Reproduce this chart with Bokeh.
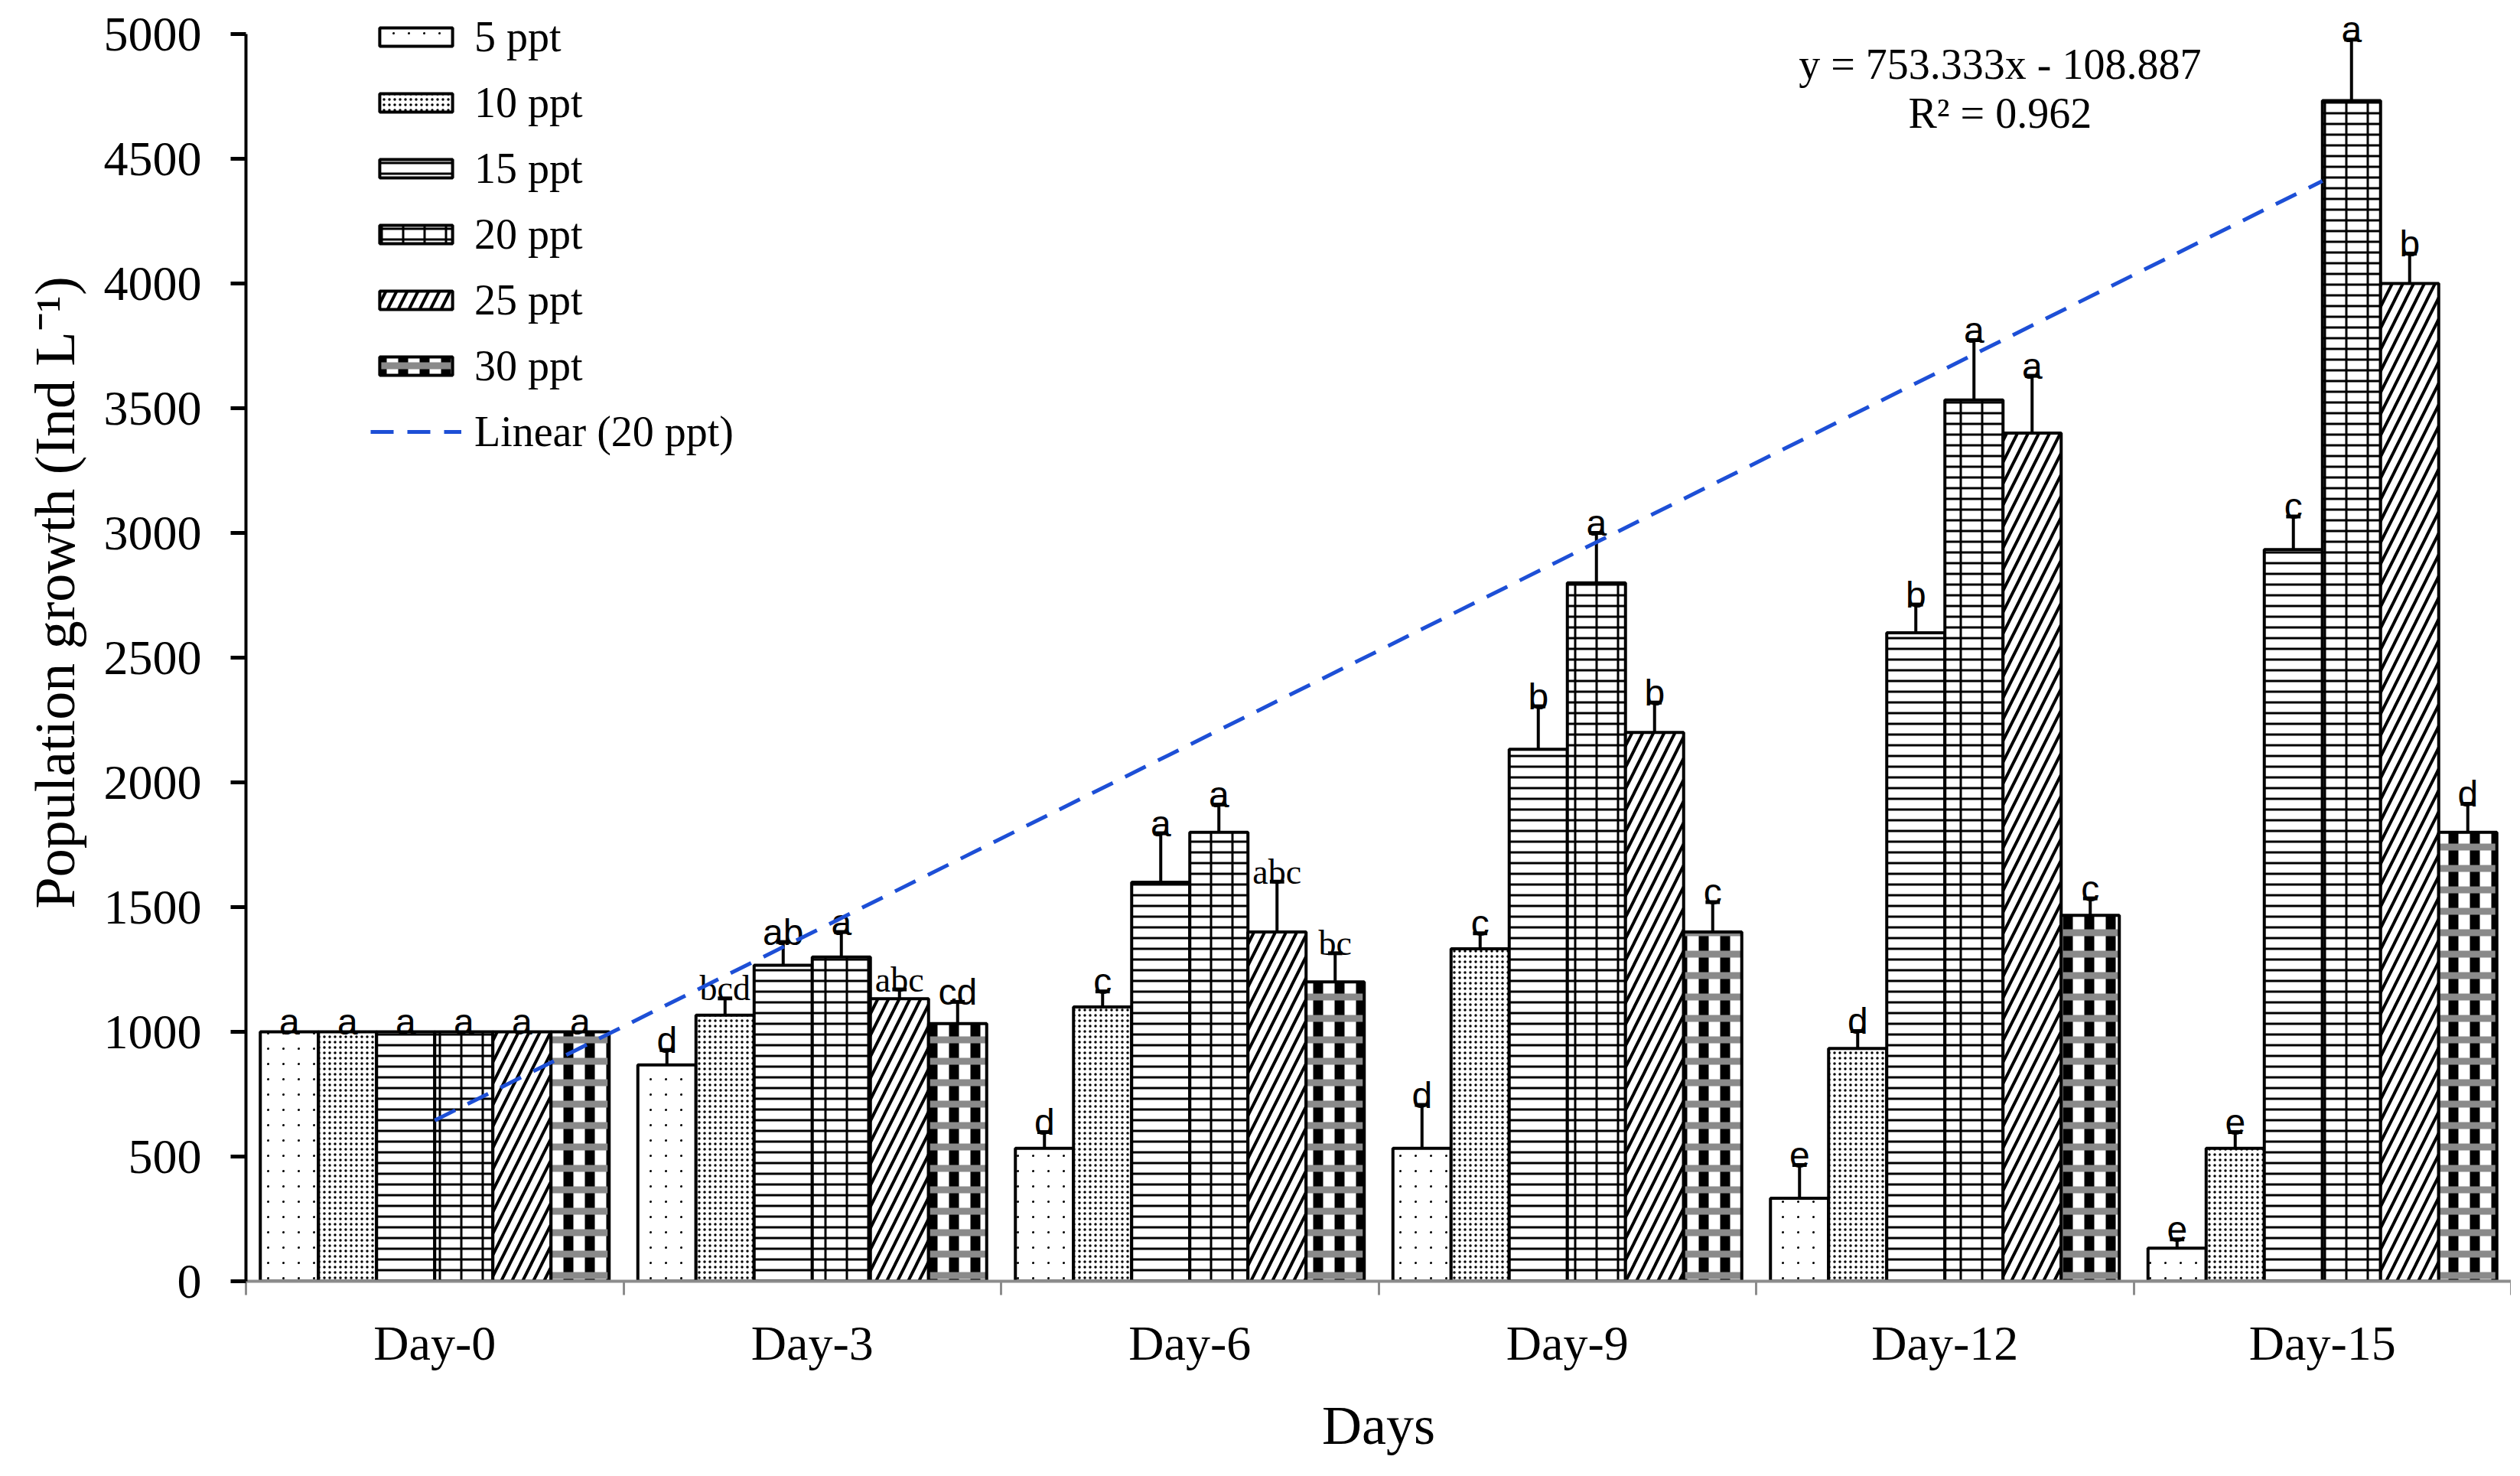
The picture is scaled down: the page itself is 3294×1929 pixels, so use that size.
from bokeh.plotting import figure
from bokeh.models import Range1d, FixedTicker, Legend, LegendItem, Label, Title
from bokeh.core.properties import value
from bokeh.embed import file_html
from bokeh.resources import INLINE

# ---------------- data ----------------
DAYS = ["Day-0", "Day-3", "Day-6", "Day-9", "Day-12", "Day-15"]
SALINITY = ["5 ppt", "10 ppt", "15 ppt", "20 ppt", "25 ppt", "30 ppt"]

ppt5 = [1000, 867, 533, 533, 333, 133]
ppt10 = [1000, 1067, 1100, 1333, 933, 533]
ppt15 = [1000, 1267, 1600, 2133, 2600, 2933]
ppt20 = [1000, 1300, 1800, 2800, 3533, 4733]
ppt25 = [1000, 1133, 1400, 2200, 3400, 4000]
ppt30 = [1000, 1033, 1200, 1400, 1467, 1800]

err5 = [0, 60, 65, 174, 133, 35]
err10 = [0, 67, 62, 62, 70, 65]
err15 = [0, 93, 196, 172, 113, 133]
err20 = [0, 100, 111, 200, 240, 245]
err25 = [0, 37, 202, 120, 230, 120]
err30 = [0, 87, 115, 120, 68, 114]

let5 = ["a", "d", "d", "d", "e", "e"]
let10 = ["a", "bcd", "c", "c", "d", "e"]
let15 = ["a", "ab", "a", "b", "b", "c"]
let20 = ["a", "a", "a", "a", "a", "a"]
let25 = ["a", "abc", "abc", "b", "a", "b"]
let30 = ["a", "cd", "bc", "c", "c", "d"]

# linear trend of 20 ppt, read at Day-0 and Day-15
TREND_DAYS = ["Day-0", "Day-15"]
TREND_Y = [645, 4411]
EQUATION = "y = 753.333x - 108.887"
R2_TEXT = "R\u00b2 = 0.962"
X_TITLE = "Days"
Y_TITLE = "Population growth (Ind L\u207b\u00b9)"

VALUES = [ppt5, ppt10, ppt15, ppt20, ppt25, ppt30]
ERRORS = [err5, err10, err15, err20, err25, err30]
LETTERS = [let5, let10, let15, let20, let25, let30]
SERIF_LETTERS = {"bcd", "abc", "bc"}

# ---------------- hatch layers (built-in patterns, stacked) ----------------
LAYERS = [
    [dict(hatch_pattern=".", hatch_scale=20, hatch_weight=1, hatch_color="black"),
     dict(hatch_pattern="o", hatch_scale=20, hatch_weight=7, hatch_color="white")],
    [dict(hatch_pattern=".", hatch_scale=7, hatch_weight=1, hatch_color="black")],
    [dict(hatch_pattern="-", hatch_scale=14, hatch_weight=3, hatch_color="black")],
    [dict(hatch_pattern="-", hatch_scale=14, hatch_weight=3, hatch_color="black"),
     dict(hatch_pattern="|", hatch_scale=28, hatch_weight=3, hatch_color="black")],
    [dict(hatch_pattern="/", hatch_scale=28, hatch_weight=4, hatch_color="black")],
    [dict(hatch_pattern="|", hatch_scale=28, hatch_weight=13, hatch_color="black"),
     dict(hatch_pattern="-", hatch_scale=28, hatch_weight=9, hatch_color="#8a8a8a")],
]

SERIF = "Liberation Serif"
SANS = "Liberation Sans"

# ---------------- figure ----------------
W, H = 3282, 1913
MB_LEFT, MB_RIGHT, MB_TOP, MB_BOTTOM = 321, 0, 10, 239
frame_h = H - MB_TOP - MB_BOTTOM
y_top = 5000 * frame_h / (frame_h - 34)

p = figure(width=W, height=H, x_range=Range1d(0, len(DAYS)), y_range=Range1d(0, y_top),
           output_backend="svg", toolbar_location=None,
           min_border_left=MB_LEFT, min_border_right=MB_RIGHT,
           min_border_top=MB_TOP, min_border_bottom=MB_BOTTOM)
p.outline_line_color = None
p.xgrid.visible = False
p.ygrid.visible = False
p.background_fill_color = "white"

n = len(SALINITY)
bw = 0.154
centers = [i + 0.5 for i in range(len(DAYS))]

series_renderers = []
all_x, all_top, all_err = [], [], []
sans_x, sans_y, sans_t = [], [], []
serif_x, serif_y, serif_t = [], [], []
for k in range(n):
    xs = [c + (k - (n - 1) / 2) * bw for c in centers]
    rs = []
    layers = LAYERS[k]
    for li, hatch in enumerate(layers):
        first = li == 0
        last = li == len(layers) - 1
        r = p.vbar(x=xs, top=VALUES[k], width=bw, bottom=0,
                   fill_color="white", fill_alpha=1.0 if first else 0.0,
                   line_color="black", line_width=4, line_alpha=1.0 if last else 0.0,
                   **hatch)
        rs.append(r)
    series_renderers.append(rs)
    for x, t, e, l in zip(xs, VALUES[k], ERRORS[k], LETTERS[k]):
        if e > 0:
            all_x.append(x)
            all_top.append(t)
            all_err.append(t + e)
        if l in SERIF_LETTERS:
            serif_x.append(x); serif_y.append(t + e); serif_t.append(l)
        else:
            sans_x.append(x); sans_y.append(t + e); sans_t.append(l)

cap = 0.019
p.segment(x0=all_x, y0=all_top, x1=all_x, y1=all_err, line_color="black", line_width=4)
p.segment(x0=[x - cap for x in all_x], y0=all_err, x1=[x + cap for x in all_x], y1=all_err,
          line_color="black", line_width=5)

p.text(x=sans_x, y=sans_y, text=sans_t, text_align="center", text_baseline="alphabetic",
       y_offset=-13, text_font=value(SANS), text_font_size="48px", text_color="black")
p.text(x=serif_x, y=serif_y, text=serif_t, text_align="center", text_baseline="alphabetic",
       y_offset=-13, text_font=value(SERIF), text_font_size="46px", text_color="black")

trend_x = [centers[DAYS.index(d)] for d in TREND_DAYS]
trend = p.line(trend_x, TREND_Y, line_color="#1d4fd6", line_width=5, line_dash="30 18")

p.add_layout(Label(x=4.646, y=4880, text=EQUATION, text_align="center", text_baseline="middle",
                   text_font=SERIF, text_font_size="56px", text_color="black"))
p.add_layout(Label(x=4.646, y=4684, text=R2_TEXT, text_align="center", text_baseline="middle",
                   text_font=SERIF, text_font_size="56px", text_color="black"))

# ---------------- axes ----------------
xa = p.xaxis[0]
xa.ticker = FixedTicker(ticks=centers, minor_ticks=list(range(len(DAYS) + 1)))
xa.major_label_overrides = {c: d for c, d in zip(centers, DAYS)}
xa.major_tick_line_color = None
xa.major_tick_out = 18
xa.major_tick_in = 0
xa.minor_tick_line_color = "#8c8c8c"
xa.minor_tick_line_width = 3
xa.minor_tick_out = 18
xa.minor_tick_in = 0
xa.axis_line_color = "#8c8c8c"
xa.axis_line_width = 4
xa.major_label_standoff = 27
xa.major_label_text_font = SERIF
xa.major_label_text_font_size = "64px"
xa.major_label_text_color = "black"
xa.axis_label = X_TITLE
xa.axis_label_text_font = SERIF
xa.axis_label_text_font_size = "72px"
xa.axis_label_text_font_style = "normal"
xa.axis_label_text_color = "black"
xa.axis_label_standoff = 29

ya = p.yaxis[0]
ya.ticker = FixedTicker(ticks=list(range(0, 5001, 500)), minor_ticks=[])
ya.bounds = (0, 5000)
ya.axis_line_color = "black"
ya.axis_line_width = 4
ya.major_tick_line_color = "black"
ya.major_tick_line_width = 5
ya.major_tick_out = 20
ya.major_tick_in = 0
ya.minor_tick_line_color = None
ya.major_label_standoff = 38
ya.major_label_text_font = SERIF
ya.major_label_text_font_size = "64px"
ya.major_label_text_color = "black"

# y-axis title, placed off-centre (starts ~487 px above the x axis) like the original
p.add_layout(Title(text=Y_TITLE, align="left", offset=487, standoff=40,
                   text_font=SERIF, text_font_size="74px", text_font_style="normal",
                   text_color="black"), "left")

# ---------------- legend ----------------
items = [LegendItem(label=s, renderers=rs) for s, rs in zip(SALINITY, series_renderers)]
items.append(LegendItem(label="Linear (20 ppt)", renderers=[trend]))
legend_h = 7 * 64 + 6 * 22
legend = Legend(items=items, location=(163, frame_h - 6 - legend_h),
                glyph_width=119, glyph_height=30, label_height=64, spacing=22,
                label_standoff=17, padding=0, margin=0,
                label_text_font=SERIF, label_text_font_size="56px", label_text_color="black",
                border_line_color=None, background_fill_alpha=0)
p.add_layout(legend, "center")

open("out.html", "w").write(file_html(p, INLINE))
